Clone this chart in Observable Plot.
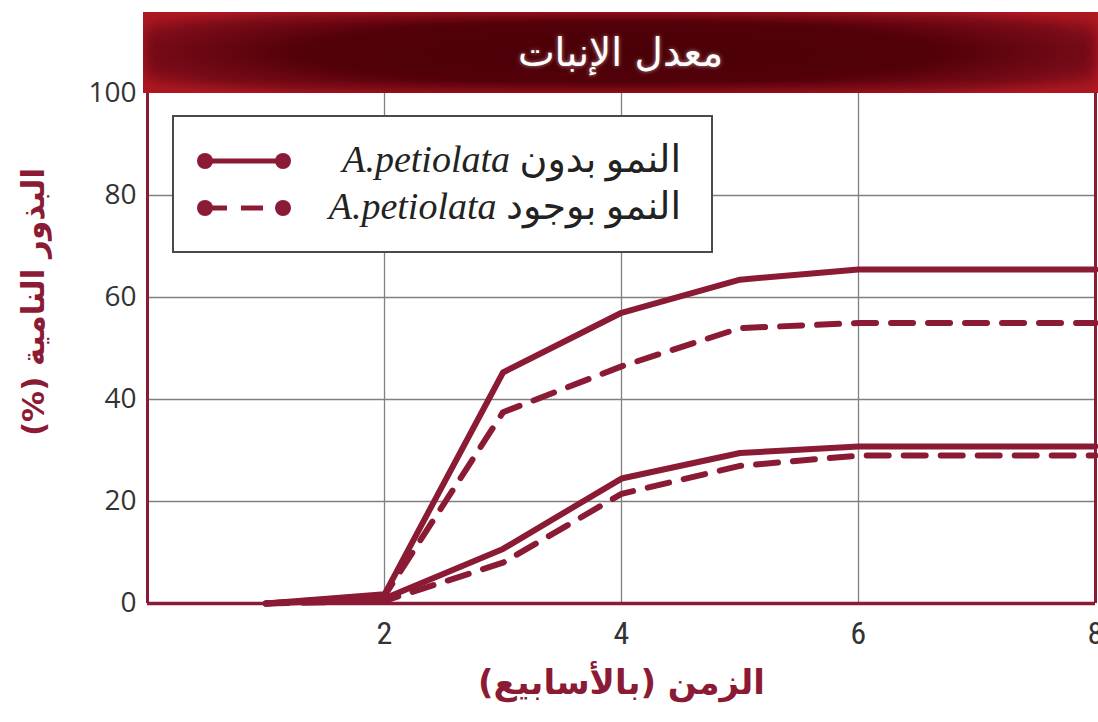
<!DOCTYPE html>
<html><head><meta charset="utf-8">
<script src="https://cdn.jsdelivr.net/npm/d3@7"></script>
<script src="https://cdn.jsdelivr.net/npm/@observablehq/plot@0.6"></script>
<style>
body{margin:0;background:#fff;}
#wrap{position:relative;width:1098px;height:722px;overflow:hidden;}
#title{position:absolute;left:143px;top:12px;width:955px;height:81px;
  background:radial-gradient(ellipse 60% 70% at 50% 50%, #4a0008 0%, #520009 55%, #7a0c18 85%, #a3161f 100%);
  box-shadow: inset 0 0 14px #b81a26;
  color:#fff;font-family:"DejaVu Sans",sans-serif;font-size:39px;
  display:flex;align-items:center;justify-content:center;text-shadow:0 0 4px rgba(255,220,220,0.6);}
#legend{position:absolute;left:172px;top:115px;width:541px;height:138px;border:2px solid #4a4a4a;background:#fff;
  box-sizing:border-box;}
.row{position:absolute;left:0;width:100%;height:40px;}
.row svg{position:absolute;left:20px;top:8px;}
.row span{position:absolute;right:30px;top:-6px;white-space:nowrap;font-family:"Liberation Serif","DejaVu Sans",serif;font-size:38px;color:#222;line-height:48px;}
#ylab{position:absolute;left:33px;top:302px;transform:translate(-50%,-50%) rotate(-90deg);white-space:nowrap;
  font-family:"DejaVu Sans",sans-serif;font-weight:bold;font-size:31px;color:#8b1a35;}
</style>
</head><body>
<div id="wrap">
<div id="chart"></div>
<div id="title"></div>
<div id="legend"></div>
<div id="ylab" dir="rtl"></div>
</div>
<script>
const titleText = "معدل الإنبات";
const yLabel = "البذور النامية (%)";
const xLabel = "الزمن (بالأسابيع)";
const legendLabels = ["النمو بدون", "النمو بوجود"];
const species = "A.petiolata";
const weeks = [1, 2, 3, 4, 5, 6, 8];
const solidHigh  = [0, 1.8, 45.3, 57, 63.5, 65.5, 65.5];
const dashedHigh = [0, 1.5, 37.5, 46.5, 54, 55, 55];
const solidLow   = [0, 1.0, 10.7, 24.5, 29.5, 30.8, 30.8];
const dashedLow  = [0, 0.5, 8.0, 21.5, 27, 29, 29];
const xTicks = [2, 4, 6, 8];
const yTicks = [0, 20, 40, 60, 80, 100];

const crimson = "#8b1a35";
const solid = [], dashed = [];
weeks.forEach((w, i) => {
  solid.push({x: w, y: solidHigh[i], g: "high"});
  solid.push({x: w, y: solidLow[i], g: "low"});
  dashed.push({x: w, y: dashedHigh[i], g: "high"});
  dashed.push({x: w, y: dashedLow[i], g: "low"});
});

const chart = Plot.plot({
  width: 1098, height: 722,
  marginTop: 93, marginBottom: 119, marginLeft: 147, marginRight: 3,
  x: {domain: [0, 8]},
  y: {domain: [0, 100]},
  style: {background: "transparent"},
  marks: [
    Plot.gridX(xTicks.filter(d => d < 8), {stroke: "#808080", strokeOpacity: 1, strokeWidth: 1.3}),
    Plot.gridY(yTicks.filter(d => d > 0 && d < 100), {stroke: "#808080", strokeOpacity: 1, strokeWidth: 1.3}),
    Plot.line(solid, {x: "x", y: "y", z: "g", stroke: crimson, strokeWidth: 6}),
    Plot.line(dashed, {x: "x", y: "y", z: "g", stroke: crimson, strokeWidth: 6, strokeDasharray: "22,15"}),
    Plot.ruleX([0, 8], {stroke: crimson, strokeWidth: 3}),
    Plot.ruleY([0], {stroke: crimson, strokeWidth: 3.5}),
    Plot.axisY(yTicks, {tickSize: 0, tickPadding: 11, fontSize: 28, fill: "#333", label: null, tickFormat: d => String(d), fontFamily: "Open Sans"}),
    Plot.axisX(xTicks, {tickSize: 0, tickPadding: 18, fontSize: 32, fill: "#333", label: null, tickFormat: d => String(d), fontFamily: "Liberation Sans Narrow, Roboto Condensed, Open Sans"}),
    Plot.text([xLabel], {frameAnchor: "bottom", dy: 90,
      fontSize: 34, fontWeight: "bold", fill: crimson, fontFamily: "DejaVu Sans"})
  ]
});
document.getElementById("chart").appendChild(chart);
document.getElementById("title").textContent = titleText;
document.getElementById("ylab").textContent = yLabel;

const legend = document.getElementById("legend");
const tops = [24, 71];
legendLabels.forEach((lab, i) => {
  const row = document.createElement("div");
  row.className = "row";
  row.style.top = tops[i] + "px";
  const dash = i === 1 ? 'stroke-dasharray="22,14"' : '';
  row.innerHTML = `<svg width="100" height="24"><line x1="11" y1="12" x2="89" y2="12" stroke="${crimson}" stroke-width="5" ${dash}/>` +
    `<circle cx="11" cy="12" r="8" fill="${crimson}"/><circle cx="89" cy="12" r="8" fill="${crimson}"/></svg>` +
    `<span dir="rtl">${lab} <i>${species}</i></span>`;
  legend.appendChild(row);
});
</script>
</body></html>
